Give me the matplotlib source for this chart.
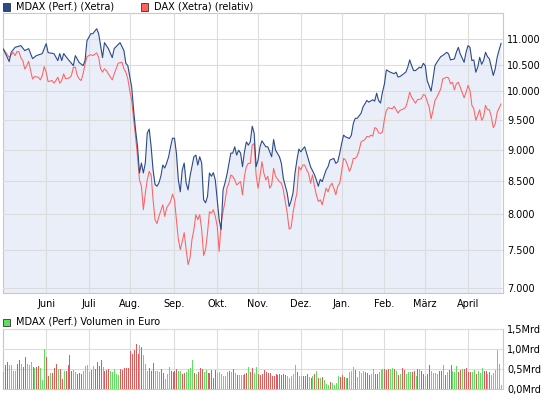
import numpy as np
import pandas as pd
import matplotlib
matplotlib.use("Agg")
import matplotlib.pyplot as plt
from matplotlib.patches import Rectangle
from matplotlib.ticker import FixedLocator, NullLocator, FuncFormatter

# === Data ===
# trading days of the Xetra calendar, May 2011 - April 2012
trading_days = pd.bdate_range("2011-05-02", "2012-04-27")
trading_days = trading_days.drop(pd.to_datetime(["2011-12-26", "2012-04-06", "2012-04-09"]))

month_labels = ["Juni", "Juli", "Aug.", "Sep.", "Okt.", "Nov.", "Dez.",
                "Jan.", "Feb.", "März", "April"]

# (trading day index, points)
mdax = [
    (0, 10800), (3, 10558), (4, 10737), (6, 10834), (9, 10868), (11, 10770), (13, 10809),
    (15, 10615), (17, 10673), (20, 10712), (22, 10907), (23, 10731), (26, 10712), (28, 10577),
    (29, 10712), (30, 10577), (31, 10712), (33, 10615), (36, 10481), (37, 10673), (39, 10539),
    (41, 10481), (42, 10577), (43, 10966), (45, 11106), (46, 11106), (48, 11207), (49, 11106),
    (51, 10634), (52, 10927), (54, 10809), (56, 10634), (57, 10809), (60, 10927), (62, 10770),
    (63, 10525), (64, 10481), (66, 10078), (67, 9663), (68, 9321), (69, 9050), (70, 8625),
    (71, 8782), (72, 8625), (73, 8782), (74, 9271), (75, 9341), (76, 9045), (77, 8672),
    (78, 8450), (79, 8420), (80, 8471), (81, 8574), (82, 8750), (83, 8703), (84, 8782),
    (85, 8883), (86, 9045), (87, 9187), (88, 9187), (89, 8942), (90, 8517), (91, 8335),
    (92, 8672), (93, 8782), (94, 8471), (95, 8365), (96, 8574), (97, 8724), (98, 8883),
    (99, 8910), (100, 8750), (101, 8883), (102, 8782), (103, 8216), (104, 8171), (105, 8265),
    (106, 8625), (107, 8574), (108, 8630), (109, 8517), (110, 8216), (111, 7925), (112, 7783),
    (113, 8365), (114, 8471), (115, 8600), (117, 8942), (118, 8942), (119, 9045), (120, 8910),
    (121, 8990), (122, 8942), (123, 8724), (124, 8963), (125, 9126), (126, 9072), (127, 9126),
    (128, 9388), (129, 9271), (130, 8724), (131, 8830), (132, 9045), (133, 9143), (135, 9045),
    (136, 9045), (137, 8963), (138, 8883), (139, 9165), (140, 8990), (142, 8883), (143, 8777),
    (144, 8540), (146, 8315), (147, 8117), (148, 8200), (149, 8320), (150, 8620), (151, 8830),
    (152, 9008), (153, 8963), (154, 9008), (155, 9045), (156, 8937), (157, 8830), (158, 8724),
    (160, 8600), (161, 8517), (162, 8420), (163, 8527), (164, 8490), (166, 8672), (167, 8724),
    (168, 8830), (170, 8856), (171, 8777), (172, 8803), (173, 8937), (174, 9100), (175, 9238),
    (176, 9210), (178, 9182), (179, 9238), (180, 9436), (181, 9525), (182, 9525), (184, 9612),
    (185, 9722), (186, 9781), (187, 9839), (188, 9809), (190, 9851), (191, 9826), (192, 9969),
    (193, 9839), (194, 9792), (195, 9987), (196, 10137), (197, 10400), (199, 10357), (201, 10328),
    (202, 10357), (203, 10266), (204, 10275), (206, 10328), (207, 10357), (208, 10450), (209, 10590),
    (210, 10481), (211, 10387), (212, 10387), (214, 10450), (215, 10438), (216, 10525), (217, 10481),
    (218, 10201), (220, 10006), (221, 10232), (222, 10481), (223, 10545), (225, 10654), (226, 10673),
    (228, 10737), (229, 10706), (230, 10590), (232, 10609), (233, 10737), (234, 10834), (235, 10706),
    (237, 10545), (238, 10737), (239, 10868), (240, 10834), (241, 10577), (242, 10590), (243, 10357),
    (244, 10450), (245, 10640), (246, 10506), (247, 10577), (248, 10737), (249, 10654), (250, 10609),
    (252, 10295), (253, 10420), (254, 10640), (255, 10783), (256, 10913),
]

dax_rel = [
    (0, 10800), (3, 10640), (5, 10737), (6, 10673), (7, 10750), (8, 10750), (9, 10630),
    (10, 10577), (11, 10415), (12, 10481), (13, 10563), (14, 10387), (15, 10230), (16, 10275),
    (18, 10262), (19, 10213), (20, 10294), (21, 10462), (22, 10357), (23, 10180), (25, 10201),
    (26, 10153), (27, 10201), (28, 10262), (29, 10153), (30, 10201), (31, 10325), (32, 10232),
    (34, 10250), (35, 10294), (36, 10450), (37, 10450), (38, 10294), (39, 10232), (40, 10201),
    (41, 10325), (42, 10508), (43, 10654), (45, 10692), (46, 10673), (48, 10725), (49, 10640),
    (50, 10420), (51, 10357), (52, 10420), (53, 10387), (54, 10325), (56, 10213), (57, 10325),
    (58, 10420), (59, 10525), (61, 10545), (62, 10420), (63, 10357), (64, 10232), (65, 10019),
    (66, 9839), (67, 9508), (68, 9210), (69, 8883), (70, 8517), (71, 8420), (72, 8069),
    (73, 8310), (74, 8517), (75, 8650), (76, 8594), (77, 8216), (78, 7925), (79, 7868),
    (80, 7972), (82, 8142), (83, 7972), (84, 8096), (85, 8142), (86, 8190), (87, 8300),
    (88, 8216), (89, 7925), (90, 7643), (91, 7506), (92, 7617), (93, 7740), (94, 7506),
    (95, 7305), (96, 7390), (97, 7643), (98, 7783), (99, 7996), (100, 7925), (101, 7996),
    (102, 7783), (103, 7425), (104, 7506), (105, 7737), (106, 8040), (107, 8018), (108, 8069),
    (109, 7972), (110, 7830), (111, 7480), (112, 7870), (113, 8040), (114, 8190), (115, 8390),
    (116, 8466), (117, 8594), (118, 8574), (119, 8517), (120, 8441), (121, 8466), (122, 8490),
    (123, 8290), (124, 8574), (125, 8724), (126, 8777), (127, 8777), (128, 9072), (129, 9100),
    (130, 8594), (131, 8390), (132, 8574), (133, 8803), (134, 8620), (135, 8517), (136, 8574),
    (137, 8390), (138, 8441), (139, 8697), (140, 8574), (142, 8490), (143, 8466), (144, 8365),
    (145, 8190), (146, 8018), (147, 7790), (148, 7813), (149, 8026), (150, 8190), (151, 8315),
    (152, 8724), (153, 8672), (154, 8750), (155, 8750), (156, 8672), (157, 8620), (158, 8466),
    (159, 8594), (160, 8420), (161, 8290), (162, 8190), (163, 8216), (164, 8142), (165, 8265),
    (166, 8390), (167, 8335), (168, 8420), (169, 8466), (170, 8390), (171, 8290), (172, 8420),
    (173, 8466), (174, 8650), (175, 8856), (176, 8830), (177, 8750), (178, 8650), (179, 8724),
    (180, 8856), (181, 8856), (182, 8893), (183, 8990), (184, 9126), (186, 9165), (187, 9218),
    (188, 9206), (189, 9238), (190, 9222), (191, 9365), (192, 9348), (193, 9280), (194, 9265),
    (195, 9292), (196, 9508), (197, 9663), (198, 9710), (200, 9692), (201, 9734), (203, 9617),
    (204, 9663), (206, 9692), (207, 9722), (208, 9839), (209, 9987), (210, 9897), (212, 9790),
    (213, 9851), (215, 9868), (216, 9946), (217, 9928), (219, 9722), (220, 9515), (221, 9663),
    (222, 9839), (223, 9897), (225, 10049), (226, 10232), (228, 10262), (229, 10250), (230, 10140),
    (231, 10170), (232, 10031), (233, 10140), (234, 10170), (235, 10078), (237, 9886), (238, 9987),
    (239, 10110), (240, 10019), (241, 9751), (242, 9692), (243, 9491), (244, 9576), (245, 9673),
    (246, 9491), (247, 9548), (248, 9751), (249, 9675), (250, 9675), (251, 9548), (252, 9365),
    (253, 9430), (254, 9630), (255, 9705), (256, 9775),
]

# daily volume in Mrd Euro, one per trading day
volume = [
    0.43, 0.60, 0.68, 0.60, 0.60, 0.45, 0.45, 0.63, 0.73, 0.63,
    0.55, 0.80, 0.63, 0.60, 0.68, 0.55, 0.53, 0.55, 0.58, 0.53,
    0.23, 1.00, 0.80, 0.33, 0.40, 0.40, 0.53, 0.63, 0.50, 0.50,
    0.25, 0.45, 0.45, 0.60, 0.85, 0.45, 0.48, 0.43, 0.38, 0.40,
    0.38, 0.45, 0.58, 0.60, 0.43, 0.48, 0.58, 0.50, 0.68, 0.58,
    0.73, 0.55, 0.45, 0.48, 0.50, 0.45, 0.43, 0.50, 0.38, 0.35,
    0.50, 0.48, 0.53, 0.53, 0.52, 0.95, 0.88, 0.98, 1.13, 0.88,
    1.10, 1.05, 0.85, 0.63, 0.45, 0.53, 0.45, 0.65, 0.45, 0.45,
    0.43, 0.50, 0.40, 0.25, 0.38, 0.55, 0.45, 0.43, 0.45, 0.50,
    0.45, 0.45, 0.38, 0.40, 0.43, 0.50, 0.53, 0.73, 0.40, 0.38,
    0.43, 0.53, 0.50, 0.43, 0.48, 0.40, 0.40, 0.48, 0.28, 0.48,
    0.40, 0.43, 0.38, 0.33, 0.33, 0.43, 0.45, 0.43, 0.50, 0.40,
    0.35, 0.35, 0.35, 0.35, 0.38,
    0.39, 0.55, 0.43, 0.53, 0.40, 0.55, 0.38, 0.35, 0.38, 0.48,
    0.43, 0.40, 0.40, 0.33, 0.33, 0.38, 0.35, 0.38, 0.35, 0.38,
    0.36,
    0.33, 0.28, 0.33, 0.38, 0.60, 0.43, 0.33, 0.33, 0.33, 0.33,
    0.38, 0.30, 0.28, 0.33, 0.38, 0.45, 0.28, 0.28, 0.30, 0.23,
    0.13, 0.10, 0.18, 0.15, 0.10, 0.15, 0.33, 0.30, 0.35, 0.30,
    0.28,
    0.28, 0.43, 0.45, 0.55, 0.48, 0.30, 0.45, 0.40, 0.45, 0.43,
    0.40, 0.35, 0.38, 0.50, 0.38, 0.38, 0.43, 0.48, 0.50, 0.50,
    0.48, 0.51, 0.50, 0.53, 0.50, 0.45, 0.35, 0.38, 0.53, 0.48, 0.38,
    0.43, 0.43, 0.43, 0.45, 0.33, 0.50, 0.50, 0.45, 0.38, 0.33,
    0.38, 0.60, 0.45, 0.40, 0.40, 0.38, 0.45, 0.45, 0.60, 0.35,
    0.42,
    0.48, 0.60, 0.45, 0.43, 0.58, 0.43, 0.48, 0.50, 0.50, 0.53,
    0.43, 0.43, 0.43, 0.48, 0.38, 0.45,
    0.40, 0.53, 0.45, 0.45, 0.38, 0.43, 0.35, 0.40, 0.48, 0.98, 0.63, 0.10,
]
# g = up day (green bar), r = down day (red bar), same order as volume
volume_dir = (
    "grrggggrrg" "rrgggrgrrg" "ggrrgrrrgr" "rgrrrrggrr" "rggggrgrrr"
    "rgrrrggggg" "rrrrrrrrrr" "grgggrrrgg" "grrgggrrrr" "ggrrggggrg"
    "rrrggrrrrr" "ggggggrgrg" "rgggr"
    "rgrrggrrrr" "rrrrrrrrrr" "r"
    "gggggrggrr" "rgrgrgrgrg" "ggrggggrrr" "g"
    "rgggrggggr" "rrggrrgggr" "rrggrgrgrrg"
    "ggrrgrgrrg" "rrggggrrgr" "g"
    "rrgggrrgrr" "rrggrg" "ggrrgrgggggg"
)

price_ticks = [7000, 7500, 8000, 8500, 9000, 9500, 10000, 10500, 11000]
volume_ticks = [0.0, 0.5, 1.0, 1.5]
volume_tick_labels = ["0,0Mrd", "0,5Mrd", "1,0Mrd", "1,5Mrd"]

# === Styling ===
c_mdax = "#2B4A8A"
c_dax = "#FF6161"
c_fill = "#EAEEF9"
c_grid = "#DCDCDC"
c_frame = "#C8C8C8"
c_up = "#5EE05E"
c_down = "#E05A5A"

months = trading_days.month
month_starts = [i for i in range(1, len(trading_days)) if months[i] != months[i - 1]]

W, H = 545, 398
fig = plt.figure(figsize=(W / 100, H / 100), dpi=100)
ax = fig.add_axes([3 / W, 105 / H, 500 / W, 280 / H])
axv = fig.add_axes([3 / W, 9 / H, 500 / W, 60 / H])

md_x, md_y = zip(*mdax)
dx_x, dx_y = zip(*dax_rel)

# --- price panel ---
ax.set_yscale("log")
ax.fill_between(md_x, md_y, 6000, color=c_fill, lw=0, zorder=1)
ax.plot(dx_x, dx_y, color=c_dax, lw=0.75, zorder=3)
ax.plot(md_x, md_y, color=c_mdax, lw=0.8, zorder=4)
ax.set_ylim(6937, 11531)
ax.set_xlim(-0.2, 257)
ax.yaxis.set_major_locator(FixedLocator(price_ticks))
ax.yaxis.set_minor_locator(NullLocator())
ax.yaxis.set_major_formatter(FuncFormatter(lambda v, p: f"{v:,.0f}".replace(",", ".")))
ax.yaxis.tick_right()
ax.set_xticks(month_starts)
ax.set_xticklabels(month_labels)
ax.tick_params(axis="y", length=0, labelsize=7, pad=3)
ax.tick_params(axis="x", length=0, labelsize=7, pad=4)

# --- volume panel: 1 px wide bars ---
vx = np.arange(len(volume))
bar_cols = [c_up if d == "g" else c_down for d in volume_dir]
n = min(len(volume), len(bar_cols))
axv.vlines(vx[:n], 0, volume[:n], colors=bar_cols[:n], lw=0.72,
           antialiased=False, zorder=3)
axv.set_ylim(0, 1.5)
axv.set_xlim(-0.2, 257)
axv.set_yticks(volume_ticks)
axv.set_yticklabels(volume_tick_labels)
axv.yaxis.tick_right()
axv.set_xticks(month_starts)
axv.set_xticklabels([])
axv.tick_params(axis="both", length=0, labelsize=7, pad=3)

for a in (ax, axv):
    a.set_axisbelow(False)
    a.grid(True, color=c_grid, lw=0.8, zorder=2)
    for s in a.spines.values():
        s.set_color(c_frame)
        s.set_linewidth(0.8)

# --- legends ---
def legend_box(x, y, color, label):
    fig.add_artist(Rectangle((x / W, 1 - (y + 4) / H), 7 / W, 7 / H,
                             transform=fig.transFigure, facecolor=color,
                             edgecolor="#333333", lw=0.6))
    fig.text((x + 13) / W, 1 - y / H, label, fontsize=7, va="center", ha="left")

legend_box(3, 6.5, c_mdax, "MDAX (Perf.) (Xetra)")
legend_box(141, 6.5, c_dax, "DAX (Xetra) (relativ)")
legend_box(3, 322, c_up, "MDAX (Perf.) Volumen in Euro")

fig.savefig("out.png", dpi=100, facecolor="white")
